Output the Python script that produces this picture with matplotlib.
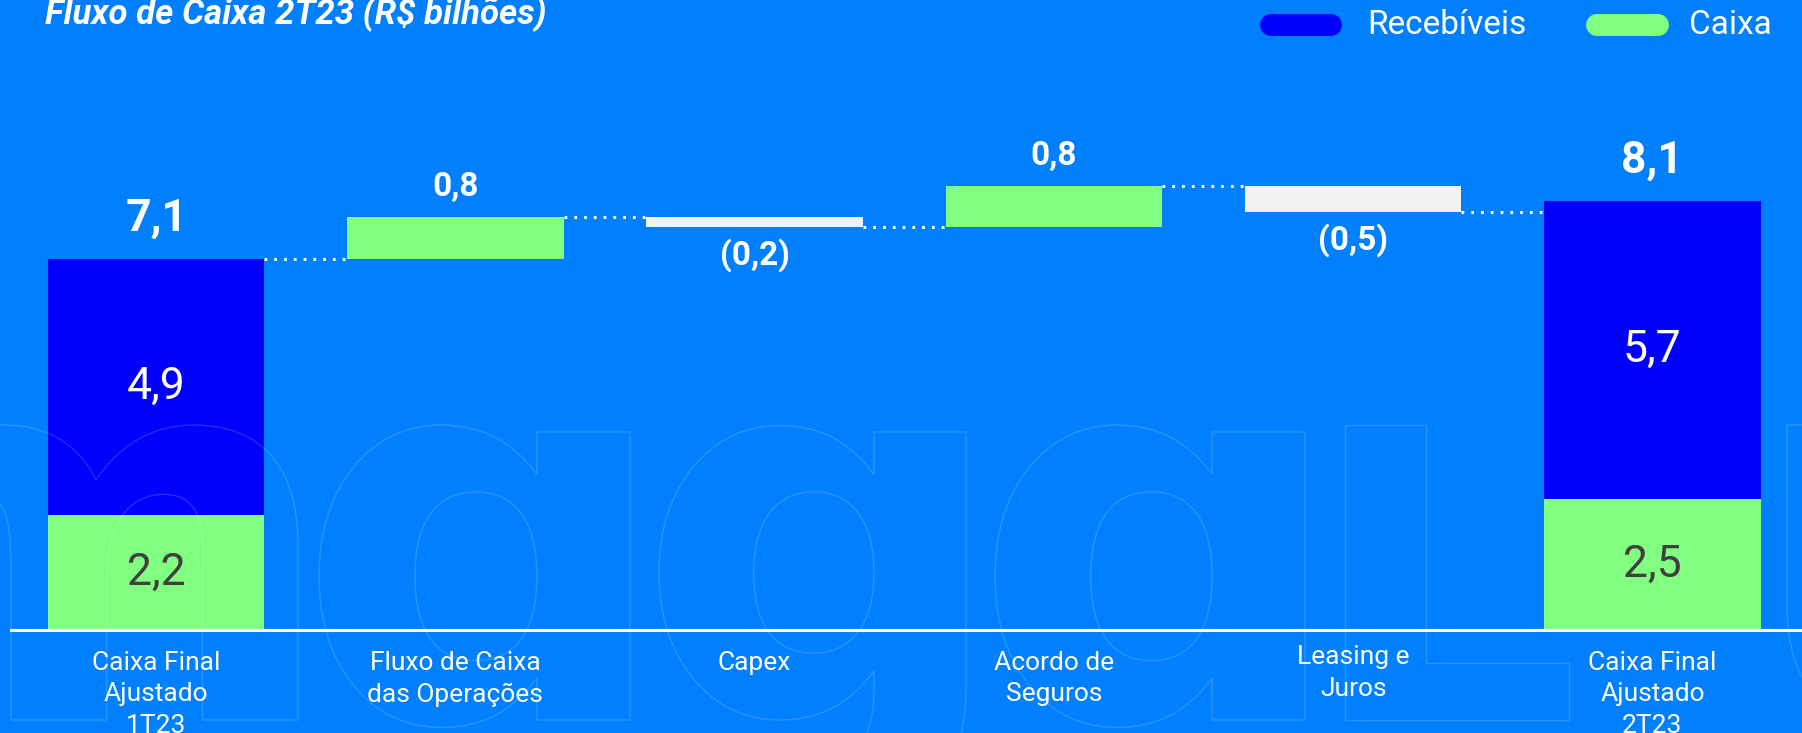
import matplotlib
matplotlib.use("Agg")
import matplotlib.pyplot as plt
from matplotlib.lines import Line2D
from matplotlib.patches import PathPatch
from matplotlib.textpath import TextPath
from matplotlib.font_manager import FontProperties
from matplotlib.transforms import Affine2D

# data (R$ bilhões)
categories = ["Caixa Final\nAjustado\n1T23", "Fluxo de Caixa\ndas Operações", "Capex",
              "Acordo de\nSeguros", "Leasing e\nJuros", "Caixa Final\nAjustado\n2T23"]
total_pos = [0, 5]
total_values = [7.1, 8.1]
caixa_values = [2.2, 2.5]
recebiveis_values = [4.9, 5.7]
change_pos = [1, 2, 3, 4]
change_values = [0.8, -0.2, 0.8, -0.5]

BG = "#0080FF"
BLUE = "#0000FF"
GREEN = "#80FF80"
GREY = "#F2F2F2"
DARK = "#404040"

plt.rcParams['font.family'] = ['Roboto', 'DejaVu Sans']


def fmt(v):
    s = f"{abs(v):.1f}".replace('.', ',')
    return f"({s})" if v < 0 else s


W, H = 1802, 733
fig = plt.figure(figsize=(W / 100, H / 100), dpi=100, facecolor=BG)

# faint logo watermark in the background, one glyph at a time (pixel boxes)
wm_font = FontProperties(family='DejaVu Sans', weight='bold')
base_y, top_y = 13, 308
ref = TextPath((0, 0), "\u0251", size=1, prop=wm_font).get_extents()
sy = (top_y - base_y) / ref.y1
for ch, x0, x1 in [("m", -180, 298), ("\u0251", 319, 630), ("g", 659, 966),
                   ("\u0251", 995, 1305), ("L", 1345, 1569), ("u", 1787, 2100)]:
    tp = TextPath((0, 0), ch, size=1, prop=wm_font)
    ext = tp.get_extents()
    sx = (x1 - x0) / ext.width
    syy = (top_y - base_y) / ext.y1 if ch in "mLu" else sy
    tr = Affine2D().translate(-ext.x0, 0).scale(sx, syy).translate(x0, base_y)
    fig.add_artist(PathPatch(tp, facecolor='none', edgecolor='white', lw=1.0,
                             alpha=0.16, transform=tr))

ax = fig.add_axes([11 / W, 103 / H, 1791 / W, 630 / H])
ax.set_facecolor('none')
ax.set_xlim(-0.485, 5.5)
ax.set_ylim(0, 12.05)
ax.axis('off')
bw = 0.723
dots = dict(color='white', lw=2.2, linestyle=(0, (0.9, 2.3)), zorder=2)

# total bars
ax.bar(total_pos, caixa_values, bw, color=GREEN, zorder=3)
ax.bar(total_pos, recebiveis_values, bw, bottom=caixa_values, color=BLUE, zorder=3)
for p, c, r, t in zip(total_pos, caixa_values, recebiveis_values, total_values):
    ax.text(p, c / 2, fmt(c), ha='center', va='center', fontsize=32, color=DARK, zorder=4)
    ax.text(p, c + r / 2, fmt(r), ha='center', va='center', fontsize=32, color='white', zorder=4)
    ax.annotate(fmt(t), (p, c + r), xytext=(0, 14), textcoords='offset points',
                ha='center', va='bottom', fontsize=32, fontweight='bold', color='white')

# floating steps
level = total_values[0]
prev_right = total_pos[0] + bw / 2
for p, v in zip(change_pos, change_values):
    ax.plot([prev_right, p - bw / 2], [level, level], **dots)
    bottom = level if v > 0 else level + v
    ax.bar(p, abs(v), bw, bottom=bottom, color=GREEN if v > 0 else GREY, zorder=3)
    if v > 0:
        ax.annotate(fmt(v), (p, bottom + abs(v)), xytext=(0, 10), textcoords='offset points',
                    ha='center', va='bottom', fontsize=24, fontweight='bold', color='white')
    else:
        ax.annotate(fmt(v), (p, bottom), xytext=(0, -8), textcoords='offset points',
                    ha='center', va='top', fontsize=24, fontweight='bold', color='white')
    level += v
    prev_right = p + bw / 2
ax.plot([prev_right, total_pos[1] - bw / 2], [level, level], **dots)

# base line and category labels
ax.axhline(0, color='white', lw=2.2, clip_on=False, zorder=5)
for i, lab in enumerate(categories):
    off = -11 if lab.startswith("Leasing") else -15
    ax.annotate(lab, (i, 0), xytext=(0, off), textcoords='offset points',
                ha='center', va='top', fontsize=19, color='white', linespacing=1.4,
                annotation_clip=False)

# title
fig.text(45 / W, 1 - 23 / H, "Fluxo de Caixa 2T23 (R$ bilhões)", fontsize=25,
         fontweight='bold', style='italic', color='white', va='baseline', ha='left')

# legend pills
for x0, x1, col, txt, tx in [(1271, 1331, BLUE, "Recebíveis", 1367),
                             (1597, 1658, GREEN, "Caixa", 1689)]:
    fig.add_artist(Line2D([x0 / W, x1 / W], [1 - 25 / H] * 2, transform=fig.transFigure,
                          lw=15.8, color=col, solid_capstyle='round'))
    fig.text(tx / W, 1 - 25 / H, txt, fontsize=24, color='white', va='center', ha='left')

fig.savefig('out.png', dpi=100, facecolor=BG)
